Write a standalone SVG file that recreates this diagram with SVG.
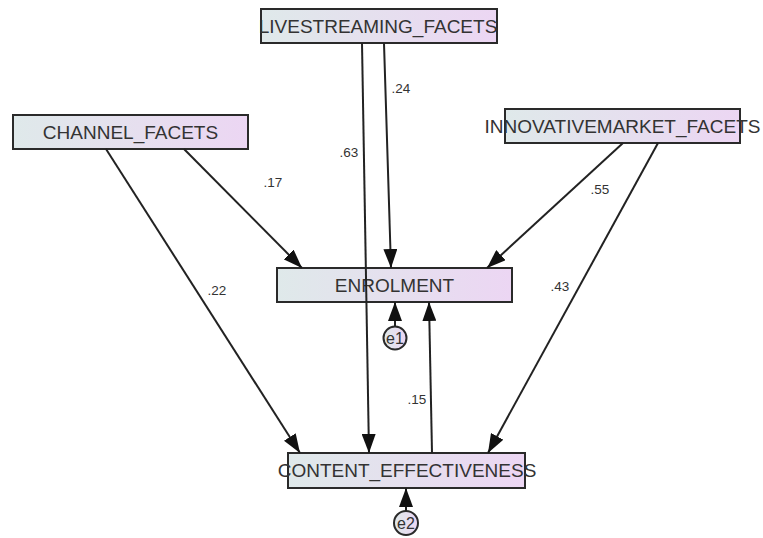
<svg xmlns="http://www.w3.org/2000/svg" width="763" height="538" viewBox="0 0 763 538">
<style>
.box{stroke:#2a2a2a;stroke-width:2;fill:url(#g)}
.t{font-family:"Liberation Sans",Arial,sans-serif;font-size:19px;fill:#333;text-anchor:middle}
.l{font-family:"Liberation Sans",Arial,sans-serif;font-size:13.5px;fill:#333;text-anchor:middle}
.e{font-family:"Liberation Sans",Arial,sans-serif;font-size:16px;fill:#333;text-anchor:middle}
.c line{stroke:#222;stroke-width:2;marker-end:url(#a)}
</style>
<defs>
<linearGradient id="g" x1="0" y1="0" x2="1" y2="0">
<stop offset="0" stop-color="#dfe9ea"/>
<stop offset="1" stop-color="#ecd6f3"/>
</linearGradient>
<marker id="a" markerUnits="userSpaceOnUse" markerWidth="20" markerHeight="14" refX="19" refY="7" orient="auto" viewBox="0 0 20 14">
<path d="M0,0 L19,7 L0,14 z" fill="#111"/>
</marker>
</defs>
<g id="LIVESTREAMING_FACETS">
<rect class="box" x="261" y="9" width="236" height="34"/>
<text class="t" x="378" y="33">LIVESTREAMING_FACETS</text>
</g>
<g id="CHANNEL_FACETS">
<rect class="box" x="13" y="115" width="235" height="34"/>
<text class="t" x="130.5" y="139">CHANNEL_FACETS</text>
</g>
<g id="INNOVATIVEMARKET_FACETS">
<rect class="box" x="505" y="109" width="235" height="34"/>
<text class="t" x="622.5" y="133">INNOVATIVEMARKET_FACETS</text>
</g>
<g id="ENROLMENT">
<rect class="box" x="277" y="268" width="235" height="34"/>
<text class="t" x="394.5" y="292">ENROLMENT</text>
</g>
<g id="CONTENT_EFFECTIVENESS">
<rect class="box" x="288" y="453" width="237" height="35"/>
<text class="t" x="407" y="477">CONTENT_EFFECTIVENESS</text>
</g>
<g id="e1">
<circle cx="395" cy="338" r="11.5" fill="url(#g)" stroke="#2a2a2a" stroke-width="2"/>
<text class="e" x="395" y="344">e1</text>
</g>
<g id="e2">
<circle cx="406" cy="523" r="12" fill="url(#g)" stroke="#2a2a2a" stroke-width="2"/>
<text class="e" x="406" y="529">e2</text>
</g>
<g id="connectors" class="c">
<line x1="106" y1="149" x2="300" y2="453"/>
<line x1="184" y1="149" x2="302" y2="268"/>
<line x1="362" y1="43" x2="369" y2="453"/>
<line x1="384" y1="43" x2="391" y2="268"/>
<line x1="623" y1="143" x2="487" y2="268"/>
<line x1="658" y1="143" x2="488" y2="453"/>
<line x1="432" y1="453" x2="429" y2="302"/>
<line x1="395" y1="326" x2="395" y2="302"/>
<line x1="406" y1="511" x2="406" y2="488"/>
</g>
<g id="labels">
<text class="l" x="401" y="93">.24</text>
<text class="l" x="349" y="157">.63</text>
<text class="l" x="273" y="187">.17</text>
<text class="l" x="217" y="295">.22</text>
<text class="l" x="600" y="194">.55</text>
<text class="l" x="560" y="291">.43</text>
<text class="l" x="417" y="404">.15</text>
</g>
</svg>
